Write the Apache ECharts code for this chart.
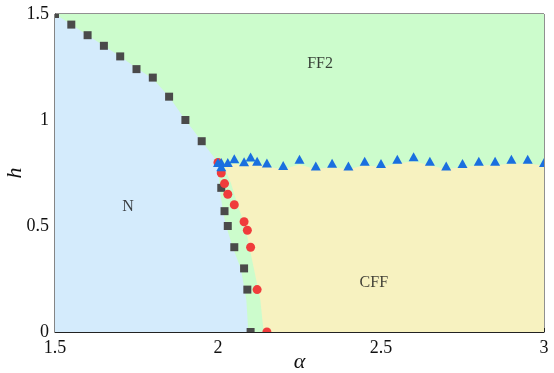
<!DOCTYPE html>
<html>
<head>
<meta charset="utf-8">
<script src="https://cdn.jsdelivr.net/npm/echarts@6/dist/echarts.min.js"></script>
<style>
html, body { margin: 0; padding: 0; background: #fff; }
#chart { width: 554px; height: 373px; }
</style>
</head>
<body>
<div id="chart"></div>
<script>
// phase boundary points [alpha, h]
var squarePts = [
  [1.5, 1.5], [1.55, 1.45], [1.6, 1.4], [1.65, 1.35], [1.7, 1.3], [1.75, 1.24],
  [1.8, 1.2], [1.85, 1.11], [1.9, 1.0], [1.95, 0.9],
  [2.01, 0.68], [2.02, 0.57], [2.03, 0.5], [2.05, 0.4], [2.08, 0.3], [2.09, 0.2], [2.1, 0.0]
]
var circlePts = [
  [2.0, 0.80], [2.01, 0.75], [2.02, 0.70], [2.03, 0.65], [2.05, 0.60],
  [2.08, 0.52], [2.09, 0.48], [2.1, 0.40], [2.12, 0.20], [2.15, 0.0]
]
var trianglePts = [
  [2.0, 0.80], [2.01, 0.78], [2.01, 0.80], [2.03, 0.80], [2.05, 0.817], [2.08, 0.803],
  [2.1, 0.825], [2.12, 0.806], [2.15, 0.797], [2.2, 0.785], [2.25, 0.815], [2.3, 0.783],
  [2.35, 0.796], [2.4, 0.783], [2.45, 0.806], [2.5, 0.795], [2.55, 0.815], [2.6, 0.827],
  [2.65, 0.806], [2.7, 0.783], [2.75, 0.795], [2.8, 0.806], [2.85, 0.806], [2.9, 0.815],
  [2.95, 0.815], [3.0, 0.80]
]

// shaded regions (polygons in data coords)
var regionFF2 = [[1.5, 0], [3, 0], [3, 1.5], [1.5, 1.5]]
var regionN = [
  [1.5, 1.5], [1.55, 1.45], [1.6, 1.4], [1.65, 1.35], [1.7, 1.3], [1.75, 1.245],
  [1.8, 1.195], [1.85, 1.11], [1.9, 1.0], [1.95, 0.9], [1.99, 0.82], [2.0, 0.79],
  [2.005, 0.68], [2.015, 0.57], [2.025, 0.5], [2.045, 0.4], [2.07, 0.3], [2.087, 0.15],
  [2.093, 0], [1.5, 0]
]
var regionCFF = [
  [2.02, 0.775], [2.05, 0.795], [2.08, 0.785], [2.1, 0.80], [2.15, 0.78], [2.2, 0.768],
  [2.25, 0.79], [2.3, 0.768], [2.35, 0.778], [2.4, 0.768], [2.45, 0.786], [2.5, 0.778],
  [2.55, 0.795], [2.6, 0.805], [2.65, 0.786], [2.7, 0.768], [2.75, 0.778], [2.8, 0.786],
  [2.85, 0.786], [2.9, 0.795], [2.95, 0.795], [3, 0.785],
  [3, 0], [2.14, 0], [2.13, 0.15], [2.11, 0.3], [2.083, 0.5], [2.06, 0.6], [2.04, 0.7], [2.02, 0.775]
]
var regionLabels = [
  { name: 'FF2', value: [2.313, 1.264] },
  { name: 'N', value: [1.724, 0.59] },
  { name: 'CFF', value: [2.478, 0.231] }
]

var xTicks = [1.5, 2, 2.5, 3]
var yTicks = [0, 0.5, 1, 1.5]

var serif = 'Liberation Serif'

function polygonSeries(pts, color) {
  return {
    type: 'custom',
    clip: true,
    silent: true,
    data: [0],
    renderItem: function(params, api) {
      var points = pts.map(function(p) { return api.coord(p) })
      return {
        type: 'polygon',
        shape: { points: points },
        style: { fill: color, stroke: 'none' }
      }
    }
  }
}

// markers drawn through a clipped custom series so they are cut at the frame
function markerSeries(pts, kind, size, color) {
  return {
    type: 'custom',
    clip: true,
    silent: true,
    data: pts,
    renderItem: function(params, api) {
      var c = api.coord([api.value(0), api.value(1)])
      var s = size
      if (kind === 'rect') {
        return { type: 'rect', shape: { x: c[0] - s / 2, y: c[1] - s / 2, width: s, height: s }, style: { fill: color } }
      }
      if (kind === 'circle') {
        return { type: 'circle', shape: { cx: c[0], cy: c[1], r: s / 2 }, style: { fill: color } }
      }
      return {
        type: 'polygon',
        shape: { points: [[c[0], c[1] - s / 2], [c[0] + s / 2 + 0.5, c[1] + s / 2], [c[0] - s / 2 - 0.5, c[1] + s / 2]] },
        style: { fill: color }
      }
    }
  }
}

var chart = echarts.init(document.getElementById('chart'))
chart.setOption({
  animation: false,
  backgroundColor: '#fff',
  grid: {
    left: 55, right: 10, top: 14, bottom: 41,
    outerBoundsMode: 'none',
    containLabel: false,
    show: true, borderColor: '#222', borderWidth: 1, backgroundColor: 'transparent'
  },
  xAxis: {
    type: 'value',
    min: 1.5, max: 3, interval: 0.5,
    name: 'α',
    nameLocation: 'middle',
    nameGap: 19,
    nameMoveOverlap: false,
    nameTextStyle: { fontFamily: serif, fontStyle: 'italic', fontSize: 22, color: '#111' },
    axisLine: { lineStyle: { color: '#222', width: 1.2 } },
    axisTick: { inside: true, length: 4, lineStyle: { color: '#222' } },
    axisLabel: {
      fontFamily: serif, fontSize: 18, color: '#111', margin: 7,
      formatter: function(v) { return xTicks.indexOf(v) >= 0 ? String(v) : '' }
    },
    splitLine: { show: false }
  },
  yAxis: {
    type: 'value',
    min: 0, max: 1.5, interval: 0.5,
    name: 'h',
    nameLocation: 'middle',
    nameGap: 29,
    nameMoveOverlap: false,
    nameRotate: 90,
    nameTextStyle: { fontFamily: serif, fontStyle: 'italic', fontSize: 22, color: '#111' },
    axisLine: { lineStyle: { color: '#222', width: 1.2 } },
    axisTick: { inside: true, length: 4, lineStyle: { color: '#222' } },
    axisLabel: {
      fontFamily: serif, fontSize: 18, color: '#111', margin: 6,
      formatter: function(v) { return yTicks.indexOf(v) >= 0 ? String(v) : '' }
    },
    splitLine: { show: false }
  },
  series: [
    polygonSeries(regionFF2, '#ccfccc'),
    polygonSeries(regionN, '#d4ebfc'),
    polygonSeries(regionCFF, '#f7f2c0'),
    {
      type: 'scatter',
      data: regionLabels,
      symbolSize: 0,
      silent: true,
      label: {
        show: true,
        position: 'inside',
        formatter: '{b}',
        fontFamily: serif,
        fontSize: 16,
        color: '#111'
      }
    },
    markerSeries(squarePts, 'rect', 8, '#4a4a4a'),
    markerSeries(circlePts, 'circle', 9, '#f03c3c'),
    markerSeries(trianglePts, 'triangle', 9, '#1a6fdf')
  ]
})
</script>
</body>
</html>
